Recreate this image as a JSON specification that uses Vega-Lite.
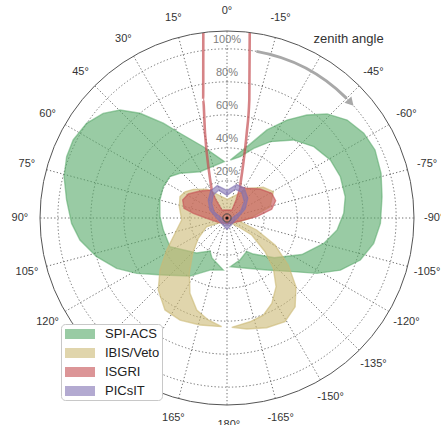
{
"$schema":"https://vega.github.io/schema/vega-lite/v6.json",
"width":374,"height":374,
"autosize":{"type":"none"},
"padding":{"left":40,"top":31,"right":27,"bottom":20},
"config":{"view":{"stroke":null},"font":"Liberation Sans"},
"datasets":{
"shapes":[
{"det":"SPI-ACS","part":"L","i":1,"a":2.7,"r":31.7},
{"det":"SPI-ACS","part":"L","i":2,"a":18.4,"r":43.0},
{"det":"SPI-ACS","part":"L","i":3,"a":29.0,"r":56.2},
{"det":"SPI-ACS","part":"L","i":4,"a":33.9,"r":66.7},
{"det":"SPI-ACS","part":"L","i":5,"a":39.7,"r":80.0},
{"det":"SPI-ACS","part":"L","i":6,"a":44.7,"r":89.6},
{"det":"SPI-ACS","part":"L","i":7,"a":49.8,"r":95.7},
{"det":"SPI-ACS","part":"L","i":8,"a":56.0,"r":100.1},
{"det":"SPI-ACS","part":"L","i":9,"a":63.1,"r":102.0},
{"det":"SPI-ACS","part":"L","i":10,"a":69.1,"r":101.5},
{"det":"SPI-ACS","part":"L","i":11,"a":75.8,"r":99.3},
{"det":"SPI-ACS","part":"L","i":12,"a":83.6,"r":95.3},
{"det":"SPI-ACS","part":"L","i":13,"a":92.0,"r":91.7},
{"det":"SPI-ACS","part":"L","i":14,"a":98.5,"r":87.6},
{"det":"SPI-ACS","part":"L","i":15,"a":106.5,"r":79.9},
{"det":"SPI-ACS","part":"L","i":16,"a":114.5,"r":71.0},
{"det":"SPI-ACS","part":"L","i":17,"a":121.5,"r":61.7},
{"det":"SPI-ACS","part":"L","i":18,"a":131.7,"r":49.4},
{"det":"SPI-ACS","part":"L","i":19,"a":147.5,"r":39.2},
{"det":"SPI-ACS","part":"L","i":20,"a":161.9,"r":30.7},
{"det":"SPI-ACS","part":"L","i":21,"a":175.9,"r":29.1},
{"det":"SPI-ACS","part":"L","i":22,"a":159.4,"r":23.4},
{"det":"SPI-ACS","part":"L","i":23,"a":152.7,"r":20.0},
{"det":"SPI-ACS","part":"L","i":24,"a":139.1,"r":25.6},
{"det":"SPI-ACS","part":"L","i":25,"a":116.7,"r":36.2},
{"det":"SPI-ACS","part":"L","i":26,"a":100.7,"r":36.8},
{"det":"SPI-ACS","part":"L","i":27,"a":88.9,"r":38.1},
{"det":"SPI-ACS","part":"L","i":28,"a":75.0,"r":39.6},
{"det":"SPI-ACS","part":"L","i":29,"a":63.8,"r":40.5},
{"det":"SPI-ACS","part":"L","i":30,"a":54.1,"r":40.2},
{"det":"SPI-ACS","part":"L","i":31,"a":46.4,"r":36.8},
{"det":"SPI-ACS","part":"L","i":32,"a":30.3,"r":30.0},
{"det":"SPI-ACS","part":"R","i":1,"a":-3.3,"r":32.7},
{"det":"SPI-ACS","part":"R","i":2,"a":-15.7,"r":42.4},
{"det":"SPI-ACS","part":"R","i":3,"a":-24.4,"r":56.1},
{"det":"SPI-ACS","part":"R","i":4,"a":-31.5,"r":67.1},
{"det":"SPI-ACS","part":"R","i":5,"a":-37.8,"r":76.5},
{"det":"SPI-ACS","part":"R","i":6,"a":-43.9,"r":85.0},
{"det":"SPI-ACS","part":"R","i":7,"a":-50.8,"r":91.4},
{"det":"SPI-ACS","part":"R","i":8,"a":-58.2,"r":95.0},
{"det":"SPI-ACS","part":"R","i":9,"a":-65.3,"r":96.2},
{"det":"SPI-ACS","part":"R","i":10,"a":-73.8,"r":94.7},
{"det":"SPI-ACS","part":"R","i":11,"a":-82.2,"r":92.3},
{"det":"SPI-ACS","part":"R","i":12,"a":-92.0,"r":90.5},
{"det":"SPI-ACS","part":"R","i":13,"a":-99.8,"r":87.7},
{"det":"SPI-ACS","part":"R","i":14,"a":-107.5,"r":82.2},
{"det":"SPI-ACS","part":"R","i":15,"a":-114.7,"r":73.1},
{"det":"SPI-ACS","part":"R","i":16,"a":-121.6,"r":61.5},
{"det":"SPI-ACS","part":"R","i":17,"a":-128.8,"r":49.4},
{"det":"SPI-ACS","part":"R","i":18,"a":-142.4,"r":37.3},
{"det":"SPI-ACS","part":"R","i":19,"a":-158.3,"r":30.3},
{"det":"SPI-ACS","part":"R","i":20,"a":-176.1,"r":27.1},
{"det":"SPI-ACS","part":"R","i":21,"a":-162.5,"r":24.0},
{"det":"SPI-ACS","part":"R","i":22,"a":-149.5,"r":21.0},
{"det":"SPI-ACS","part":"R","i":23,"a":-144.0,"r":24.5},
{"det":"SPI-ACS","part":"R","i":24,"a":-130.0,"r":35.0},
{"det":"SPI-ACS","part":"R","i":25,"a":-116.0,"r":48.0},
{"det":"SPI-ACS","part":"R","i":26,"a":-104.7,"r":58.1},
{"det":"SPI-ACS","part":"R","i":27,"a":-96.2,"r":64.6},
{"det":"SPI-ACS","part":"R","i":28,"a":-87.7,"r":68.3},
{"det":"SPI-ACS","part":"R","i":29,"a":-79.8,"r":70.3},
{"det":"SPI-ACS","part":"R","i":30,"a":-70.0,"r":70.6},
{"det":"SPI-ACS","part":"R","i":31,"a":-60.7,"r":69.3},
{"det":"SPI-ACS","part":"R","i":32,"a":-50.6,"r":65.6},
{"det":"SPI-ACS","part":"R","i":33,"a":-40.5,"r":59.7},
{"det":"SPI-ACS","part":"R","i":34,"a":-29.6,"r":50.7},
{"det":"SPI-ACS","part":"R","i":35,"a":-21.0,"r":42.7},
{"det":"SPI-ACS","part":"R","i":36,"a":-12.2,"r":35.5},
{"det":"IBIS/Veto","part":"A","i":1,"a":123.9,"r":2.6},
{"det":"IBIS/Veto","part":"A","i":2,"a":113.2,"r":10.9},
{"det":"IBIS/Veto","part":"A","i":3,"a":125.3,"r":18.8},
{"det":"IBIS/Veto","part":"A","i":4,"a":135.8,"r":27.3},
{"det":"IBIS/Veto","part":"A","i":5,"a":145.7,"r":38.0},
{"det":"IBIS/Veto","part":"A","i":6,"a":153.8,"r":48.3},
{"det":"IBIS/Veto","part":"A","i":7,"a":161.8,"r":56.2},
{"det":"IBIS/Veto","part":"A","i":8,"a":169.6,"r":60.3},
{"det":"IBIS/Veto","part":"A","i":9,"a":177.2,"r":63.4},
{"det":"IBIS/Veto","part":"A","i":10,"a":165.8,"r":64.4},
{"det":"IBIS/Veto","part":"A","i":11,"a":155.3,"r":65.6},
{"det":"IBIS/Veto","part":"A","i":12,"a":146.0,"r":64.7},
{"det":"IBIS/Veto","part":"A","i":13,"a":136.3,"r":57.8},
{"det":"IBIS/Veto","part":"A","i":14,"a":127.8,"r":48.9},
{"det":"IBIS/Veto","part":"A","i":15,"a":118.0,"r":38.9},
{"det":"IBIS/Veto","part":"A","i":16,"a":106.4,"r":30.3},
{"det":"IBIS/Veto","part":"A","i":17,"a":92.5,"r":25.0},
{"det":"IBIS/Veto","part":"A","i":18,"a":76.7,"r":27.2},
{"det":"IBIS/Veto","part":"A","i":19,"a":65.6,"r":28.8},
{"det":"IBIS/Veto","part":"A","i":20,"a":58.0,"r":27.5},
{"det":"IBIS/Veto","part":"A","i":21,"a":49.6,"r":24.3},
{"det":"IBIS/Veto","part":"A","i":22,"a":35.3,"r":18.8},
{"det":"IBIS/Veto","part":"A","i":23,"a":23.2,"r":13.3},
{"det":"IBIS/Veto","part":"A","i":24,"a":-0.9,"r":8.8},
{"det":"IBIS/Veto","part":"A","i":25,"a":-25.2,"r":13.6},
{"det":"IBIS/Veto","part":"A","i":26,"a":-35.6,"r":19.6},
{"det":"IBIS/Veto","part":"A","i":27,"a":-49.8,"r":26.3},
{"det":"IBIS/Veto","part":"A","i":28,"a":-60.4,"r":29.8},
{"det":"IBIS/Veto","part":"A","i":29,"a":-75.3,"r":24.5},
{"det":"IBIS/Veto","part":"A","i":30,"a":-90.7,"r":11.4},
{"det":"IBIS/Veto","part":"A","i":31,"a":-105.9,"r":5.7},
{"det":"IBIS/Veto","part":"A","i":32,"a":-112.0,"r":16.9},
{"det":"IBIS/Veto","part":"A","i":33,"a":-119.4,"r":30.9},
{"det":"IBIS/Veto","part":"A","i":34,"a":-127.5,"r":44.3},
{"det":"IBIS/Veto","part":"A","i":35,"a":-134.9,"r":56.5},
{"det":"IBIS/Veto","part":"A","i":36,"a":-142.5,"r":65.3},
{"det":"IBIS/Veto","part":"A","i":37,"a":-150.8,"r":69.5},
{"det":"IBIS/Veto","part":"A","i":38,"a":-160.1,"r":68.2},
{"det":"IBIS/Veto","part":"A","i":39,"a":-169.9,"r":65.8},
{"det":"IBIS/Veto","part":"A","i":40,"a":-177.5,"r":63.8},
{"det":"IBIS/Veto","part":"A","i":41,"a":-167.5,"r":61.9},
{"det":"IBIS/Veto","part":"A","i":42,"a":-159.5,"r":60.3},
{"det":"IBIS/Veto","part":"A","i":43,"a":-152.3,"r":55.9},
{"det":"IBIS/Veto","part":"A","i":44,"a":-144.5,"r":48.7},
{"det":"IBIS/Veto","part":"A","i":45,"a":-137.4,"r":39.0},
{"det":"IBIS/Veto","part":"A","i":46,"a":-131.6,"r":28.3},
{"det":"IBIS/Veto","part":"A","i":47,"a":-124.5,"r":15.7},
{"det":"IBIS/Veto","part":"A","i":48,"a":-127.6,"r":6.2},
{"det":"IBIS/Veto","part":"A","i":49,"a":-138.4,"r":1.8},
{"det":"ISGRI","part":"blob","i":1,"a":28.6,"r":16.8},
{"det":"ISGRI","part":"blob","i":2,"a":45.0,"r":20.6},
{"det":"ISGRI","part":"blob","i":3,"a":58.2,"r":25.1},
{"det":"ISGRI","part":"blob","i":4,"a":67.9,"r":26.5},
{"det":"ISGRI","part":"blob","i":5,"a":77.3,"r":24.2},
{"det":"ISGRI","part":"blob","i":6,"a":82.1,"r":18.1},
{"det":"ISGRI","part":"blob","i":7,"a":90.8,"r":9.8},
{"det":"ISGRI","part":"blob","i":8,"a":116.3,"r":3.4},
{"det":"ISGRI","part":"blob","i":9,"a":-177.0,"r":1.1},
{"det":"ISGRI","part":"blob","i":10,"a":-108.1,"r":4.7},
{"det":"ISGRI","part":"blob","i":11,"a":-87.5,"r":15.5},
{"det":"ISGRI","part":"blob","i":12,"a":-79.0,"r":25.1},
{"det":"ISGRI","part":"blob","i":13,"a":-70.4,"r":28.8},
{"det":"ISGRI","part":"blob","i":14,"a":-61.1,"r":28.5},
{"det":"ISGRI","part":"blob","i":15,"a":-48.7,"r":24.1},
{"det":"ISGRI","part":"blob","i":16,"a":-33.6,"r":19.1},
{"det":"ISGRI","part":"blob","i":17,"a":-22.6,"r":18.0},
{"det":"ISGRI","part":"blob","i":18,"a":-26.6,"r":9.7},
{"det":"ISGRI","part":"blob","i":19,"a":-32.0,"r":3.2},
{"det":"ISGRI","part":"blob","i":20,"a":32.0,"r":3.2},
{"det":"ISGRI","part":"blob","i":21,"a":31.4,"r":10.3},
{"det":"ISGRI","part":"SL","i":1,"a":7.3,"r":110.5},
{"det":"ISGRI","part":"SL","i":2,"a":11.4,"r":70.5},
{"det":"ISGRI","part":"SL","i":3,"a":14.5,"r":50.7},
{"det":"ISGRI","part":"SL","i":4,"a":21.6,"r":26.7},
{"det":"ISGRI","part":"SL","i":5,"a":28.6,"r":16.8},
{"det":"ISGRI","part":"SR","i":1,"a":-7.0,"r":110.5},
{"det":"ISGRI","part":"SR","i":2,"a":-10.7,"r":70.3},
{"det":"ISGRI","part":"SR","i":3,"a":-13.1,"r":50.2},
{"det":"ISGRI","part":"SR","i":4,"a":-16.6,"r":32.1},
{"det":"ISGRI","part":"SR","i":5,"a":-22.6,"r":18.0},
{"det":"PICsIT","part":"ring","i":1,"a":0,"r":14.2},
{"det":"PICsIT","part":"ring","i":2,"a":16.7,"r":18.0},
{"det":"PICsIT","part":"ring","i":3,"a":31,"r":16.7},
{"det":"PICsIT","part":"ring","i":4,"a":46.7,"r":13.1},
{"det":"PICsIT","part":"ring","i":5,"a":65,"r":9.0},
{"det":"PICsIT","part":"ring","i":6,"a":90,"r":3.8},
{"det":"PICsIT","part":"ring","i":7,"a":180,"r":4.5},
{"det":"PICsIT","part":"ring","i":8,"a":-90,"r":3.8},
{"det":"PICsIT","part":"ring","i":9,"a":-63.4,"r":9.8},
{"det":"PICsIT","part":"ring","i":10,"a":-46.5,"r":14.9},
{"det":"PICsIT","part":"ring","i":11,"a":-29.7,"r":18.5},
{"det":"PICsIT","part":"ring","i":12,"a":-16.2,"r":18.6},
{"det":"PICsIT","part":"ring","i":13,"a":0,"r":14.2},
{"det":"PICsIT","part":"ring","i":14,"a":0,"r":11.2},
{"det":"PICsIT","part":"ring","i":15,"a":-16.2,"r":15.6},
{"det":"PICsIT","part":"ring","i":16,"a":-29.7,"r":15.5},
{"det":"PICsIT","part":"ring","i":17,"a":-46.5,"r":11.9},
{"det":"PICsIT","part":"ring","i":18,"a":-63.4,"r":6.8},
{"det":"PICsIT","part":"ring","i":19,"a":-90,"r":0.8},
{"det":"PICsIT","part":"ring","i":20,"a":180,"r":1.5},
{"det":"PICsIT","part":"ring","i":21,"a":90,"r":0.8},
{"det":"PICsIT","part":"ring","i":22,"a":65,"r":6.0},
{"det":"PICsIT","part":"ring","i":23,"a":46.7,"r":10.1},
{"det":"PICsIT","part":"ring","i":24,"a":31,"r":13.7},
{"det":"PICsIT","part":"ring","i":25,"a":16.7,"r":15.0},
{"det":"PICsIT","part":"ring","i":26,"a":0,"r":11.2}
],
"spokes":[{"a":0},{"a":15},{"a":30},{"a":45},{"a":60},{"a":75},{"a":90},{"a":105},{"a":120},{"a":135},{"a":150},{"a":165},{"a":180},{"a":195},{"a":210},{"a":225},{"a":240},{"a":255},{"a":270},{"a":285},{"a":300},{"a":315},{"a":330},{"a":345}],
"alabels":[{"a":0,"label":"0°"},{"a":15,"label":"15°"},{"a":30,"label":"30°"},{"a":45,"label":"45°"},{"a":60,"label":"60°"},{"a":75,"label":"75°"},{"a":90,"label":"90°"},{"a":105,"label":"105°"},{"a":120,"label":"120°"},{"a":165,"label":"165°"},{"a":180,"label":"-180°"},{"a":-165,"label":"-165°"},{"a":-150,"label":"-150°"},{"a":-135,"label":"-135°"},{"a":-120,"label":"-120°"},{"a":-105,"label":"-105°"},{"a":-90,"label":"-90°"},{"a":-75,"label":"-75°"},{"a":-60,"label":"-60°"},{"a":-45,"label":"-45°"},{"a":-15,"label":"-15°"}]
},
"layer":[
{"data":{"values":[{"r":0,"t1":0,"t2":-360},{"r":20,"t1":0,"t2":-360},{"r":40,"t1":0,"t2":-360},{"r":60,"t1":0,"t2":-360},{"r":80,"t1":0,"t2":-360},{"r":100,"t1":0,"t2":-360}]},
 "mark":{"type":"arc","fill":"transparent","stroke":"#6e6e6e","strokeDash":[1.3,2.2],"strokeWidth":1},
 "encoding":{"theta":{"field":"t1","type":"quantitative","stack":null,"scale":{"domain":[0,-360],"range":[0,6.2832]}},
  "theta2":{"field":"t2"},
  "radius":{"field":"r","type":"quantitative","scale":{"type":"linear","domain":[-2.5,110.8],"range":[0,187],"nice":false,"zero":false}}}},
{"data":{"name":"spokes"},
 "transform":[{"calculate":"0","as":"x0"},{"calculate":"0","as":"y0"},{"calculate":"-113.3*sin(datum.a*PI/180)","as":"x2"},{"calculate":"113.3*cos(datum.a*PI/180)","as":"y2"}],
 "mark":{"type":"rule","stroke":"#6e6e6e","strokeDash":[1.3,2.2],"strokeWidth":1},
 "encoding":{"x":{"field":"x0","type":"quantitative","scale":{"domain":[-113.3,113.3],"nice":false,"zero":false},"axis":null},
  "y":{"field":"y0","type":"quantitative","scale":{"domain":[-113.3,113.3],"nice":false,"zero":false},"axis":null},
  "x2":{"field":"x2"},"y2":{"field":"y2"}}},
{"data":{"name":"shapes"},
 "transform":[{"filter":"datum.det == 'SPI-ACS'"},{"calculate":"-(datum.r+2.5)*sin(datum.a*PI/180)","as":"x"},{"calculate":"(datum.r+2.5)*cos(datum.a*PI/180)","as":"y"}],
 "mark":{"type":"line","filled":true,"interpolate":"linear-closed","fillOpacity":0.6,"strokeWidth":0},
 "encoding":{"x":{"field":"x","type":"quantitative","scale":{"domain":[-113.3,113.3],"nice":false,"zero":false},"axis":null},
  "y":{"field":"y","type":"quantitative","scale":{"domain":[-113.3,113.3],"nice":false,"zero":false},"axis":null},
  "order":{"field":"i","type":"quantitative"},"detail":{"field":"part","type":"nominal"},
  "color":{"field":"det","type":"nominal","scale":{"domain":["SPI-ACS","IBIS/Veto","ISGRI","PICsIT"],"range":["#55A868","#CCB974","#C44E52","#8172B2"]},
   "legend":{"title":null,"orient":"none","legendX":21,"legendY":293,"symbolType":"M-0.75,-0.625H3V0.625H-0.75Z","symbolSize":256,"symbolOpacity":0.6,"symbolStrokeWidth":0,"labelFontSize":13,"labelColor":"#222","labelOffset":26,"padding":2,"rowPadding":4,"strokeColor":"#c8c8c8","fillColor":"#ffffff","cornerRadius":4}}}},
{"data":{"name":"shapes"},
 "transform":[{"filter":"datum.det == 'SPI-ACS'"},{"calculate":"-(datum.r+2.5)*sin(datum.a*PI/180)","as":"x"},{"calculate":"(datum.r+2.5)*cos(datum.a*PI/180)","as":"y"}],
 "mark":{"type":"line","interpolate":"linear-closed","stroke":"#55A868","strokeOpacity":0.55,"strokeWidth":1.4},
 "encoding":{"x":{"field":"x","type":"quantitative","scale":{"domain":[-113.3,113.3],"nice":false,"zero":false},"axis":null},
  "y":{"field":"y","type":"quantitative","scale":{"domain":[-113.3,113.3],"nice":false,"zero":false},"axis":null},
  "order":{"field":"i","type":"quantitative"},"detail":{"field":"part","type":"nominal"}}},
{"data":{"name":"shapes"},
 "transform":[{"filter":"datum.det == 'IBIS/Veto'"},{"calculate":"-(datum.r+2.5)*sin(datum.a*PI/180)","as":"x"},{"calculate":"(datum.r+2.5)*cos(datum.a*PI/180)","as":"y"}],
 "mark":{"type":"line","filled":true,"interpolate":"linear-closed","fillOpacity":0.6,"strokeWidth":0},
 "encoding":{"x":{"field":"x","type":"quantitative","scale":{"domain":[-113.3,113.3],"nice":false,"zero":false},"axis":null},
  "y":{"field":"y","type":"quantitative","scale":{"domain":[-113.3,113.3],"nice":false,"zero":false},"axis":null},
  "order":{"field":"i","type":"quantitative"},"detail":{"field":"part","type":"nominal"},
  "color":{"field":"det","type":"nominal","scale":{"domain":["SPI-ACS","IBIS/Veto","ISGRI","PICsIT"],"range":["#55A868","#CCB974","#C44E52","#8172B2"]}}}},
{"data":{"name":"shapes"},
 "transform":[{"filter":"datum.det == 'IBIS/Veto'"},{"calculate":"-(datum.r+2.5)*sin(datum.a*PI/180)","as":"x"},{"calculate":"(datum.r+2.5)*cos(datum.a*PI/180)","as":"y"}],
 "mark":{"type":"line","interpolate":"linear-closed","stroke":"#CCB974","strokeOpacity":0.6,"strokeWidth":1.4},
 "encoding":{"x":{"field":"x","type":"quantitative","scale":{"domain":[-113.3,113.3],"nice":false,"zero":false},"axis":null},
  "y":{"field":"y","type":"quantitative","scale":{"domain":[-113.3,113.3],"nice":false,"zero":false},"axis":null},
  "order":{"field":"i","type":"quantitative"},"detail":{"field":"part","type":"nominal"}}},
{"data":{"name":"shapes"},
 "transform":[{"filter":"datum.det == 'ISGRI' && datum.part == 'blob'"},{"calculate":"-(datum.r+2.5)*sin(datum.a*PI/180)","as":"x"},{"calculate":"(datum.r+2.5)*cos(datum.a*PI/180)","as":"y"}],
 "mark":{"type":"line","filled":true,"interpolate":"linear-closed","fillOpacity":0.6,"strokeWidth":0},
 "encoding":{"x":{"field":"x","type":"quantitative","scale":{"domain":[-113.3,113.3],"nice":false,"zero":false},"axis":null},
  "y":{"field":"y","type":"quantitative","scale":{"domain":[-113.3,113.3],"nice":false,"zero":false},"axis":null},
  "order":{"field":"i","type":"quantitative"},"detail":{"field":"part","type":"nominal"},
  "color":{"field":"det","type":"nominal","scale":{"domain":["SPI-ACS","IBIS/Veto","ISGRI","PICsIT"],"range":["#55A868","#CCB974","#C44E52","#8172B2"]}}}},
{"data":{"name":"shapes"},
 "transform":[{"filter":"datum.det == 'ISGRI' && datum.part == 'blob'"},{"calculate":"-(datum.r+2.5)*sin(datum.a*PI/180)","as":"x"},{"calculate":"(datum.r+2.5)*cos(datum.a*PI/180)","as":"y"}],
 "mark":{"type":"line","interpolate":"linear-closed","stroke":"#C44E52","strokeOpacity":0.6,"strokeWidth":1.4},
 "encoding":{"x":{"field":"x","type":"quantitative","scale":{"domain":[-113.3,113.3],"nice":false,"zero":false},"axis":null},
  "y":{"field":"y","type":"quantitative","scale":{"domain":[-113.3,113.3],"nice":false,"zero":false},"axis":null},
  "order":{"field":"i","type":"quantitative"},"detail":{"field":"part","type":"nominal"}}},
{"data":{"name":"shapes"},
 "transform":[{"filter":"datum.det == 'ISGRI' && datum.part != 'blob'"},{"calculate":"-(datum.r+2.5)*sin(datum.a*PI/180)","as":"x"},{"calculate":"(datum.r+2.5)*cos(datum.a*PI/180)","as":"y"}],
 "mark":{"type":"line","interpolate":"monotone","stroke":"#C44E52","strokeOpacity":0.7,"strokeWidth":2.6},
 "encoding":{"x":{"field":"x","type":"quantitative","scale":{"domain":[-113.3,113.3],"nice":false,"zero":false},"axis":null},
  "y":{"field":"y","type":"quantitative","scale":{"domain":[-113.3,113.3],"nice":false,"zero":false},"axis":null},
  "order":{"field":"i","type":"quantitative"},"detail":{"field":"part","type":"nominal"}}},
{"data":{"name":"shapes"},
 "transform":[{"filter":"datum.det == 'PICsIT'"},{"calculate":"-(datum.r+2.5)*sin(datum.a*PI/180)","as":"x"},{"calculate":"(datum.r+2.5)*cos(datum.a*PI/180)","as":"y"}],
 "mark":{"type":"line","filled":true,"interpolate":"linear-closed","fillOpacity":0.6,"strokeWidth":0},
 "encoding":{"x":{"field":"x","type":"quantitative","scale":{"domain":[-113.3,113.3],"nice":false,"zero":false},"axis":null},
  "y":{"field":"y","type":"quantitative","scale":{"domain":[-113.3,113.3],"nice":false,"zero":false},"axis":null},
  "order":{"field":"i","type":"quantitative"},"detail":{"field":"part","type":"nominal"},
  "color":{"field":"det","type":"nominal","scale":{"domain":["SPI-ACS","IBIS/Veto","ISGRI","PICsIT"],"range":["#55A868","#CCB974","#C44E52","#8172B2"]}}}},
{"data":{"name":"shapes"},
 "transform":[{"filter":"datum.det == 'PICsIT'"},{"calculate":"-(datum.r+2.5)*sin(datum.a*PI/180)","as":"x"},{"calculate":"(datum.r+2.5)*cos(datum.a*PI/180)","as":"y"}],
 "mark":{"type":"line","interpolate":"linear-closed","stroke":"#8172B2","strokeOpacity":0.6,"strokeWidth":1.3},
 "encoding":{"x":{"field":"x","type":"quantitative","scale":{"domain":[-113.3,113.3],"nice":false,"zero":false},"axis":null},
  "y":{"field":"y","type":"quantitative","scale":{"domain":[-113.3,113.3],"nice":false,"zero":false},"axis":null},
  "order":{"field":"i","type":"quantitative"},"detail":{"field":"part","type":"nominal"}}},
{"data":{"values":[{"r":110.8,"t1":0,"t2":-360}]},
 "mark":{"type":"arc","fill":"transparent","stroke":"#555","strokeWidth":1},
 "encoding":{"theta":{"field":"t1","type":"quantitative","stack":null,"scale":{"domain":[0,-360],"range":[0,6.2832]}},
  "theta2":{"field":"t2"},
  "radius":{"field":"r","type":"quantitative","scale":{"type":"linear","domain":[-2.5,110.8],"range":[0,187],"nice":false,"zero":false}}}},
{"data":{"values":[{"x":0,"y":0}]},
 "mark":{"type":"point","filled":true,"fill":"#111","size":10,"opacity":1},
 "encoding":{"x":{"field":"x","type":"quantitative","scale":{"domain":[-113.3,113.3],"nice":false,"zero":false},"axis":null},
  "y":{"field":"y","type":"quantitative","scale":{"domain":[-113.3,113.3],"nice":false,"zero":false},"axis":null}}},
{"data":{"values":[{"r":20,"label":"20%"},{"r":40,"label":"40%"},{"r":60,"label":"60%"},{"r":80,"label":"80%"},{"r":100,"label":"100%"}]},
 "transform":[{"calculate":"0","as":"x"},{"calculate":"datum.r+2.5","as":"y"}],
 "mark":{"type":"text","fontSize":11,"fill":"#808080","align":"center","baseline":"middle","dy":-9},
 "encoding":{"x":{"field":"x","type":"quantitative","scale":{"domain":[-113.3,113.3],"nice":false,"zero":false},"axis":null},
  "y":{"field":"y","type":"quantitative","scale":{"domain":[-113.3,113.3],"nice":false,"zero":false},"axis":null},
  "text":{"field":"label","type":"nominal"}}},
{"data":{"name":"alabels"},
 "transform":[{"calculate":"-125.5*sin(datum.a*PI/180)","as":"x"},{"calculate":"125.5*cos(datum.a*PI/180)","as":"y"}],
 "mark":{"type":"text","fontSize":11,"fill":"#333","align":"center","baseline":"middle"},
 "encoding":{"x":{"field":"x","type":"quantitative","scale":{"domain":[-113.3,113.3],"nice":false,"zero":false},"axis":null},
  "y":{"field":"y","type":"quantitative","scale":{"domain":[-113.3,113.3],"nice":false,"zero":false},"axis":null},
  "text":{"field":"label","type":"nominal"}}},
{"data":{"values":[{"a":-34.2,"label":"zenith angle"}]},
 "transform":[{"calculate":"-131.1*sin(datum.a*PI/180)","as":"x"},{"calculate":"131.1*cos(datum.a*PI/180)","as":"y"}],
 "mark":{"type":"text","fontSize":13,"fill":"#333","align":"center","baseline":"middle"},
 "encoding":{"x":{"field":"x","type":"quantitative","scale":{"domain":[-113.3,113.3],"nice":false,"zero":false},"axis":null},
  "y":{"field":"y","type":"quantitative","scale":{"domain":[-113.3,113.3],"nice":false,"zero":false},"axis":null},
  "text":{"field":"label","type":"nominal"}}},
{"data":{"values":[{"t1":-10,"t2":-45,"r":100}]},
 "mark":{"type":"arc","fill":"transparent","stroke":"#a8a8a8","strokeWidth":3},
 "encoding":{"theta":{"field":"t1","type":"quantitative","stack":null,"scale":{"domain":[0,-360],"range":[0,6.2832]}},
  "theta2":{"field":"t2"},
  "radius":{"field":"r","type":"quantitative","scale":{"type":"linear","domain":[-2.5,110.8],"range":[0,187],"nice":false,"zero":false}},
  "radius2":{"field":"r"}}},
{"data":{"values":[{"a":-47,"r":100}]},
 "transform":[{"calculate":"-(datum.r+2.5)*sin(datum.a*PI/180)","as":"x"},{"calculate":"(datum.r+2.5)*cos(datum.a*PI/180)","as":"y"}],
 "mark":{"type":"point","shape":"triangle-up","filled":true,"fill":"#a8a8a8","opacity":1,"size":90,"angle":137},
 "encoding":{"x":{"field":"x","type":"quantitative","scale":{"domain":[-113.3,113.3],"nice":false,"zero":false},"axis":null},
  "y":{"field":"y","type":"quantitative","scale":{"domain":[-113.3,113.3],"nice":false,"zero":false},"axis":null}}}
]
}
